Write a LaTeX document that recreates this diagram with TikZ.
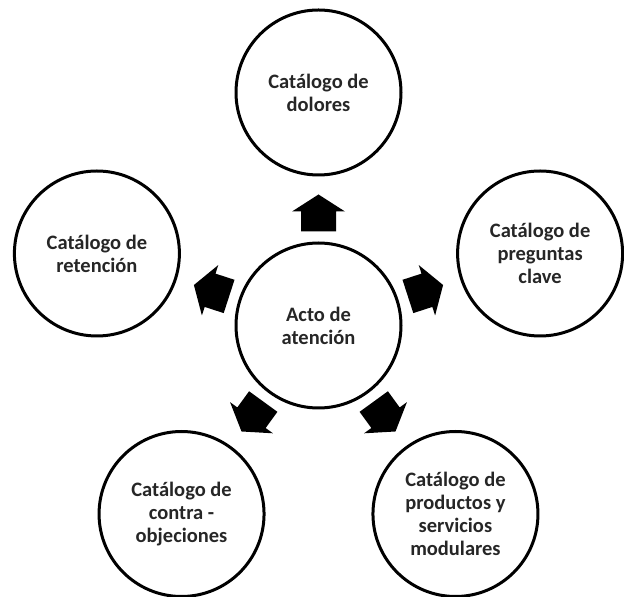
\documentclass[tikz,border=0pt]{standalone}
\usepackage{fontspec}
\setmainfont{Carlito}
\usetikzlibrary{calc}
\tikzset{
  circ/.style={circle, draw=black, line width=3pt, minimum size=165pt, inner sep=0pt,
    align=center, font=\fontsize{20.5}{23}\selectfont\bfseries, text=black!85},
  blockarrow/.style={fill=black, draw=none}
}
\begin{document}
\begin{tikzpicture}[x=1pt,y=1pt]
\useasboundingbox (0,0) rectangle (624,597);
\node[circ] (c) at (318.5,271.5) {Acto de\\atención};
\node[circ] (top) at ($(c)+(90:233)$) {Catálogo de\\dolores};
\node[circ] (left) at ($(c)+(162:233)$) {Catálogo de\\retención};
\node[circ] (right) at ($(c)+(18:233)$) {Catálogo de\\preguntas\\clave};
\node[circ] (bl) at ($(c)+(234:233)$) {Catálogo de\\contra -\\objeciones};
\node[circ] (br) at ($(c)+(306:233)$) {Catálogo de\\productos y\\servicios\\modulares};
\foreach \ang in {90,162,18,234,306}{
  \begin{scope}[shift={(c.center)}, rotate=\ang]
    \path[blockarrow] (94,-17.5) -- (114,-17.5) -- (114,-26.5) -- (131,0)
      -- (114,26.5) -- (114,17.5) -- (94,17.5) -- cycle;
  \end{scope}
}
\end{tikzpicture}
\end{document}
